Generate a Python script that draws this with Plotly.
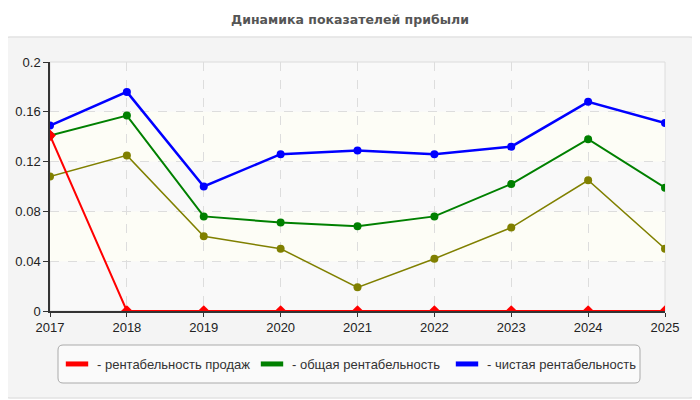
import plotly.graph_objects as go

years = [2017, 2018, 2019, 2020, 2021, 2022, 2023, 2024, 2025]
sales_margin = [0.141, 0, 0, 0, 0, 0, 0, 0, 0]
total_margin = [0.141, 0.157, 0.076, 0.071, 0.068, 0.076, 0.102, 0.138, 0.099]
net_margin = [0.149, 0.176, 0.100, 0.126, 0.129, 0.126, 0.132, 0.168, 0.151]
other_margin = [0.108, 0.125, 0.060, 0.050, 0.019, 0.042, 0.067, 0.105, 0.050]

names = ['- рентабельность продаж', '- общая рентабельность', '- чистая рентабельность']
colors = ['#ff0000', '#008000', '#0000ff']
y_ticks = [0, 0.04, 0.08, 0.12, 0.16, 0.2]

# page offset (body margin), plot area given in page pixels
OFF = 8
PL, PT, PR, PB = 50, 62, 665, 311
W, H = PR - PL, PB - PT
L, T = PL - OFF, PT - OFF
R, B = 700 - L - W, 400 - T - H


def px(x):
    return (x - PL) / W


def py(y):
    return (PB - y) / H


def rounded(x0, y0, x1, y1, r):
    # x/y in page pixels, returns path in paper coords
    a, b, c, d = px(x0), py(y0), px(x1), py(y1)
    rx, ry = r / W, r / H
    return (f'M{a + rx},{b} L{c - rx},{b} Q{c},{b} {c},{b - ry} '
            f'L{c},{d + ry} Q{c},{d} {c - rx},{d} L{a + rx},{d} '
            f'Q{a},{d} {a},{d + ry} L{a},{b - ry} Q{a},{b} {a + rx},{b} Z')


fig = go.Figure()

fig.add_trace(go.Scatter(x=years, y=other_margin, mode='lines+markers',
                         line=dict(color='#808000', width=1.5),
                         marker=dict(size=8, color='#808000'),
                         showlegend=False))
fig.add_trace(go.Scatter(x=years, y=total_margin, mode='lines+markers',
                         line=dict(color=colors[1], width=2),
                         marker=dict(size=8, color=colors[1]),
                         legendgroup='b', showlegend=False))
fig.add_trace(go.Scatter(x=years, y=net_margin, mode='lines+markers',
                         line=dict(color=colors[2], width=2.5),
                         marker=dict(size=8, color=colors[2]),
                         legendgroup='c', showlegend=False))
fig.add_trace(go.Scatter(x=years, y=sales_margin, mode='lines+markers',
                         line=dict(color=colors[0], width=2),
                         marker=dict(size=9, color=colors[0], symbol='diamond'),
                         legendgroup='a', showlegend=False))

# legend entries (wide colour bars)
for name, col, grp in zip(names, colors, ['a', 'b', 'c']):
    fig.add_trace(go.Scatter(x=[None], y=[None], mode='markers', name=name,
                             legendgroup=grp,
                             marker=dict(symbol='line-ew', size=17, color=col,
                                         line=dict(color=col, width=8))))

shapes = [
    # outer panel
    dict(type='path', xref='paper', yref='paper', path=rounded(2, 37, 697, 398, 8),
         fillcolor='#f4f4f4', line=dict(color='#e2e2e2', width=1.5), layer='below'),
    # plot background
    dict(type='rect', xref='paper', yref='paper', x0=0, x1=1, y0=0, y1=1,
         fillcolor='#f9f9f9', line=dict(color='#dcdcdc', width=1), layer='below'),
    # legend box
    dict(type='path', xref='paper', yref='paper', path=rounded(58, 345, 640, 383, 5),
         fillcolor='#fafafa', line=dict(color='#aaaaaa', width=1), layer='below'),
]
# light bands
for lo, hi in [(0.04, 0.08), (0.12, 0.16)]:
    shapes.append(dict(type='rect', xref='paper', yref='y', x0=0, x1=1, y0=lo, y1=hi,
                       fillcolor='#fdfdf6', line=dict(width=0), layer='below'))

fig.update_layout(
    width=700, height=400,
    margin=dict(l=L, r=R, t=T, b=B),
    paper_bgcolor='white',
    plot_bgcolor='rgba(0,0,0,0)',
    font=dict(family='Liberation Sans, Arial, sans-serif', size=13, color='#222222'),
    title=dict(text='<b>Динамика показателей прибыли</b>',
               x=(350 - OFF) / 700, xanchor='center',
               y=1 - (20 - OFF) / 400, yanchor='middle',
               font=dict(family='DejaVu Sans', size=12.5, color='#555555')),
    shapes=shapes,
    showlegend=True,
    legend=dict(orientation='h', xref='container', yref='container',
                x=(57 - OFF) / 700, xanchor='left',
                y=1 - (364 - OFF) / 400, yanchor='middle',
                bgcolor='rgba(0,0,0,0)', font=dict(size=13, color='#333333'),
                entrywidth=150, entrywidthmode='pixels'),
    xaxis=dict(range=[2017, 2025], tickmode='array', tickvals=years, automargin=False,
               showgrid=True, gridcolor='#dddddd', griddash='dash', gridwidth=1,
               showline=True, linecolor='#333333', linewidth=1.5,
               ticks='outside', ticklen=4, tickcolor='#333333', zeroline=False),
    yaxis=dict(range=[0, 0.2], tickmode='array', tickvals=y_ticks, automargin=False,
               ticktext=[str(v) for v in y_ticks],
               showgrid=True, gridcolor='#dddddd', griddash='dash', gridwidth=1,
               showline=True, linecolor='#333333', linewidth=1.5,
               ticks='outside', ticklen=5, tickcolor='#333333', zeroline=False),
)

fig.write_html('out.html')
